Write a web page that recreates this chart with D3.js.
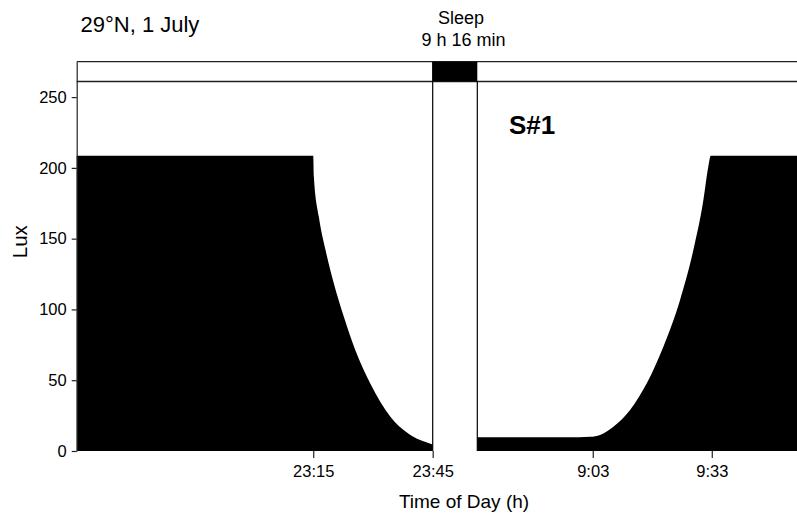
<!DOCTYPE html>
<html>
<head>
<meta charset="utf-8">
<script src="https://cdn.jsdelivr.net/npm/d3@7"></script>
<style>
  html, body { margin: 0; padding: 0; background: #fff; }
  svg { display: block; font-family: "Liberation Sans", Arial, sans-serif; }
</style>
</head>
<body>
<svg id="chart" width="797" height="513"></svg>
<script>
// ---- data (time in decimal hours, light in lux) ----
const eveningTimes = [22.26, 23.25, 23.2525, 23.2734, 23.3014, 23.336, 23.3778, 23.4267, 23.4893, 23.5729, 23.6635, 23.747, 23.75];
const eveningLux   = [208.5, 208.5, 194,     165.5,   142,     118.5,   95,      71,      47.5,    24.2,    10.6,    4.8,    4.6];
const morningTimes = [8.565, 8.99, 9.04, 9.0807, 9.1366, 9.2067, 9.2769, 9.3466, 9.4168, 9.4727, 9.5147, 9.5355, 9.5458, 9.908];
const morningLux   = [9.7,   9.7,  10,   11.3,   17.2,   29,     47.8,   73.7,   106.7,  142,    177.3,  201,    208.5,  208.5];
const eveningTicks = [23.25, 23.75];
const eveningTickLabels = ["23:15", "23:45"];
const morningTicks = [9.05, 9.55];
const morningTickLabels = ["9:03", "9:33"];
const luxTicks = [0, 50, 100, 150, 200, 250];
const luxMax = 275;
const sleepBandLow = 261;
const titleText = "29°N, 1 July";
const sleepLabel = ["Sleep", "9 h 16 min"];
const subjectLabel = "S#1";
const xTitle = "Time of Day (h)";
const yTitle = "Lux";

// ---- layout ----
const svg = d3.select("#chart");
const yBottom = 451, yTop = 61.7;
const xLeft = 76.7, xSleepStart = 432.7, xSleepEnd = 477.3, xRight = 797;

const y = d3.scaleLinear().domain([0, luxMax]).range([yBottom, yTop]);
const xEve = d3.scaleLinear().domain([eveningTimes[0], eveningTimes[eveningTimes.length - 1]]).range([xLeft, xSleepStart]);
const xMor = d3.scaleLinear().domain([morningTimes[0], morningTimes[morningTimes.length - 1]]).range([xSleepEnd, xRight]);

const eve = eveningTimes.map((t, i) => ({ t, v: eveningLux[i] }));
const mor = morningTimes.map((t, i) => ({ t, v: morningLux[i] }));

// areas
const areaEve = d3.area().x(d => xEve(d.t)).y0(y(0)).y1(d => y(d.v)).curve(d3.curveMonotoneX);
const areaMor = d3.area().x(d => xMor(d.t)).y0(y(0)).y1(d => y(d.v)).curve(d3.curveMonotoneX);
svg.append("path").datum(eve).attr("d", areaEve).attr("fill", "#000");
svg.append("path").datum(mor).attr("d", areaMor).attr("fill", "#000");

// frame lines
const lineCol = "#222";
svg.append("line").attr("x1", xLeft).attr("x2", xRight).attr("y1", y(luxMax)).attr("y2", y(luxMax))
  .attr("stroke", lineCol).attr("stroke-width", 1.3);
svg.append("line").attr("x1", xLeft).attr("x2", xRight).attr("y1", y(sleepBandLow)).attr("y2", y(sleepBandLow))
  .attr("stroke", lineCol).attr("stroke-width", 1.3);
// sleep block
svg.append("rect").attr("x", xSleepStart).attr("y", y(luxMax))
  .attr("width", xSleepEnd - xSleepStart).attr("height", y(sleepBandLow) - y(luxMax)).attr("fill", "#000");
// sleep boundary verticals
svg.append("line").attr("x1", xSleepStart).attr("x2", xSleepStart).attr("y1", y(luxMax)).attr("y2", y(0))
  .attr("stroke", "#000").attr("stroke-width", 1.2);
svg.append("line").attr("x1", xSleepEnd).attr("x2", xSleepEnd).attr("y1", y(sleepBandLow)).attr("y2", y(0))
  .attr("stroke", "#000").attr("stroke-width", 1.2);

// y axis
const yAxis = svg.append("g").attr("transform", `translate(${xLeft},0)`)
  .call(d3.axisLeft(y).tickValues(luxTicks).tickSize(5).tickSizeOuter(0).tickPadding(5));
yAxis.selectAll("text").attr("font-size", 16.5).attr("fill", "#000").attr("font-family", "Liberation Sans, Arial, sans-serif");
yAxis.selectAll("line, path").attr("stroke", lineCol).attr("stroke-width", 1.2);

// x axes
function styleX(g) {
  g.select(".domain").remove();
  g.selectAll("text").attr("font-size", 16.5).attr("fill", "#000").attr("font-family", "Liberation Sans, Arial, sans-serif");
  g.selectAll("line").attr("stroke", lineCol).attr("stroke-width", 1.2);
}
svg.append("g").attr("transform", `translate(0,${yBottom})`)
  .call(d3.axisBottom(xEve).tickValues(eveningTicks).tickFormat((d, i) => eveningTickLabels[i]).tickSize(7).tickPadding(7))
  .call(styleX);
svg.append("g").attr("transform", `translate(0,${yBottom})`)
  .call(d3.axisBottom(xMor).tickValues(morningTicks).tickFormat((d, i) => morningTickLabels[i]).tickSize(7).tickPadding(7))
  .call(styleX);

// texts
svg.append("text").attr("x", 80.5).attr("y", 31.5).attr("font-size", 22).text(titleText);
svg.append("text").attr("x", 461).attr("y", 24).attr("font-size", 18).attr("text-anchor", "middle").text(sleepLabel[0]);
svg.append("text").attr("x", 463.5).attr("y", 45.5).attr("font-size", 18).attr("text-anchor", "middle").text(sleepLabel[1]);
svg.append("text").attr("x", 509).attr("y", 134.3).attr("font-size", 26).attr("font-weight", "bold").text(subjectLabel);
svg.append("text").attr("x", 464).attr("y", 508).attr("font-size", 19).attr("text-anchor", "middle").text(xTitle);
svg.append("text").attr("transform", "translate(26.5,241.7) rotate(-90)").attr("font-size", 20.5)
  .attr("text-anchor", "middle").text(yTitle);
</script>
</body>
</html>
